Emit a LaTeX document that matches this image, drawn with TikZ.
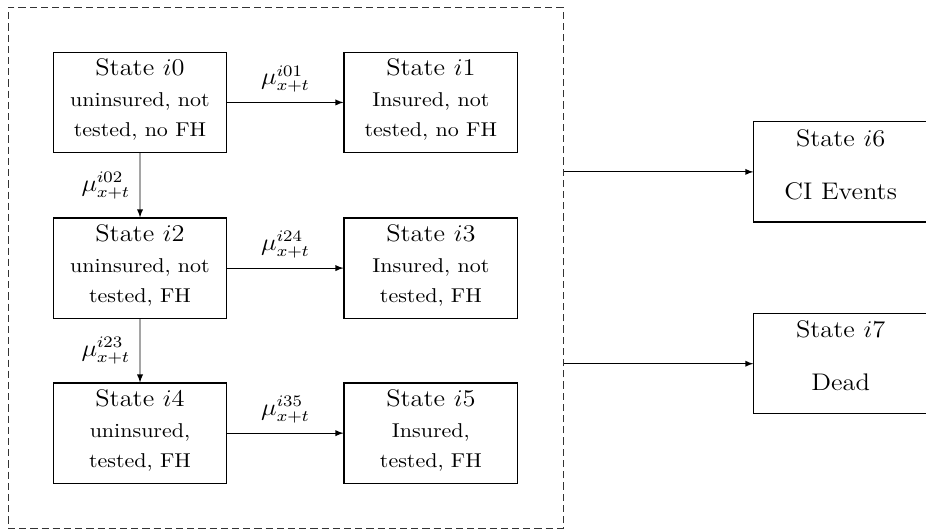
\documentclass[tikz,border=0pt]{standalone}
\usetikzlibrary{arrows}

% extra depth below the last line of a box
\newcommand{\lowstrut}[1]{\rule[-#1]{0pt}{#1}}

\begin{document}
\begin{tikzpicture}[xscale=1.1, every node/.append style={transform shape}, >=latex,
    state/.style={draw, semithick, rectangle, inner sep=1pt,
        minimum width=2.773cm, minimum height=1.76cm, align=center},
    rate/.style={font=\large}]
    \useasboundingbox (0,0) rectangle (14.79,9.31);

    % Dashed group of the living states
    \node[draw, black!80, dash pattern=on 3.6pt off 2pt,
        minimum width=8.864cm, minimum height=9.15cm] (group) at (4.564,4.61) {};

    % States inside the group
    \node[state] (s0) at (2.236,7.51) {{\large State $i0$}\\[3.5pt] uninsured, not\\[3pt] tested, no FH\lowstrut{4.6pt}};
    \node[state] (s1) at (6.882,7.51) {{\large State $i1$}\\[3.5pt] Insured, not\\[3pt] tested, no FH\lowstrut{4.6pt}};
    \node[state] (s2) at (2.236,4.60) {{\large State $i2$}\\[3.5pt] uninsured, not\\[3pt] tested, FH\lowstrut{4.6pt}};
    \node[state] (s3) at (6.882,4.60) {{\large State $i3$}\\[3.5pt] Insured, not\\[3pt] tested, FH\lowstrut{4.6pt}};
    \node[state] (s4) at (2.236,1.70) {{\large State $i4$}\\[3.5pt] uninsured,\\[3pt] tested, FH\lowstrut{4.6pt}};
    \node[state] (s5) at (6.882,1.70) {{\large State $i5$}\\[3.5pt] Insured,\\[3pt] tested, FH\lowstrut{4.6pt}};

    % Exit states
    \node[state, font=\large] (s6) at (13.427,6.29) {State $i6$\\[12.5pt] CI Events\lowstrut{7.7pt}};
    \node[state, font=\large] (s7) at (13.427,2.92) {State $i7$\\[12.5pt] Dead\lowstrut{7.7pt}};

    % Transitions
    \draw[->] (s0) -- node[rate, above=1.5pt] (r01) {$\mu_{x+t}^{i01}$} (s1);
    \draw[->] (s2) -- node[rate, above=1.5pt] (r24) {$\mu_{x+t}^{i24}$} (s3);
    \draw[->] (s4) -- node[rate, above=1.5pt] (r35) {$\mu_{x+t}^{i35}$} (s5);
    \draw[->] (s0) -- node[rate, left=1pt] (r02) {$\mu_{x+t}^{i02}$} (s2);
    \draw[->] (s2) -- node[rate, left=1pt] (r23) {$\mu_{x+t}^{i23}$} (s4);

    % From the group to the exit states
    \draw[->] (s6.west -| group.east) -- (s6.west);
    \draw[->] (s7.west -| group.east) -- (s7.west);
\end{tikzpicture}
\end{document}
